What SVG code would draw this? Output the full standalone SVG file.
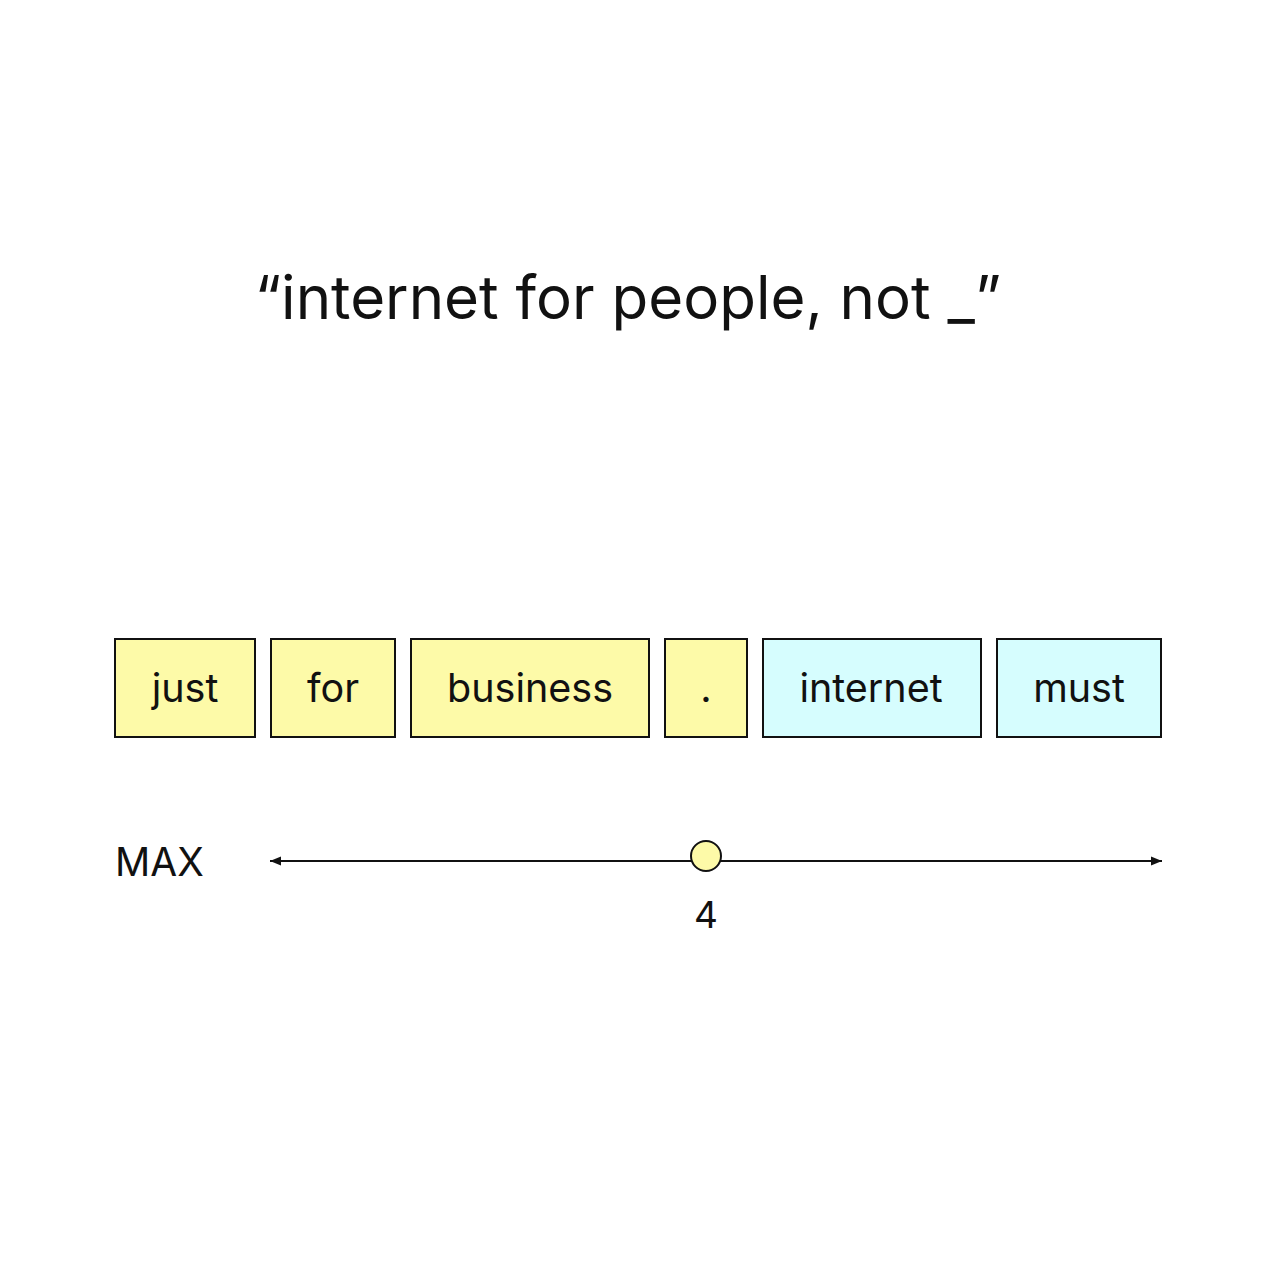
<svg xmlns="http://www.w3.org/2000/svg" width="1268" height="1268" viewBox="0 0 1268 1268">
<style>
text{font-family:Inter,"Liberation Sans",sans-serif;fill:#111}
.box rect{stroke:#111;stroke-width:2}
.y{fill:#fdfaa8}
.c{fill:#d6fdfe}
.lbl{font-size:39.5px;text-anchor:middle}
</style>
<defs>
<marker id="ah" viewBox="0 0 10 10" refX="10" refY="5" markerWidth="11" markerHeight="11" markerUnits="userSpaceOnUse" orient="auto-start-reverse">
<path d="M0,1 L10,5 L0,9 Z" fill="#111"/>
</marker>
</defs>
<rect width="1268" height="1268" fill="#fff"/>
<text id="title" x="628" y="319" font-size="60" text-anchor="middle">“internet for people, not _”</text>
<g id="n1" class="box"><rect class="y" x="115" y="639" width="140" height="98"/><text class="lbl" x="185" y="702">just</text></g>
<g id="n2" class="box"><rect class="y" x="271" y="639" width="124" height="98"/><text class="lbl" x="333" y="702">for</text></g>
<g id="n3" class="box"><rect class="y" x="411" y="639" width="238" height="98"/><text class="lbl" x="530" y="702">business</text></g>
<g id="n4" class="box"><rect class="y" x="665" y="639" width="82" height="98"/><text class="lbl" x="706" y="702">.</text></g>
<g id="n5" class="box"><rect class="c" x="763" y="639" width="218" height="98"/><text class="lbl" x="871" y="702">internet</text></g>
<g id="n6" class="box"><rect class="c" x="997" y="639" width="164" height="98"/><text class="lbl" x="1079" y="702">must</text></g>
<text id="max" x="115" y="876" font-size="39">MAX</text>
<g id="connectors">
<line x1="270" y1="861" x2="1162" y2="861" stroke="#111" stroke-width="2" marker-start="url(#ah)" marker-end="url(#ah)"/>
</g>
<g id="slider">
<circle cx="706" cy="856" r="15" fill="#fdfaa8" stroke="#111" stroke-width="2"/>
<text x="706" y="928" font-size="37" text-anchor="middle">4</text>
</g>
</svg>
